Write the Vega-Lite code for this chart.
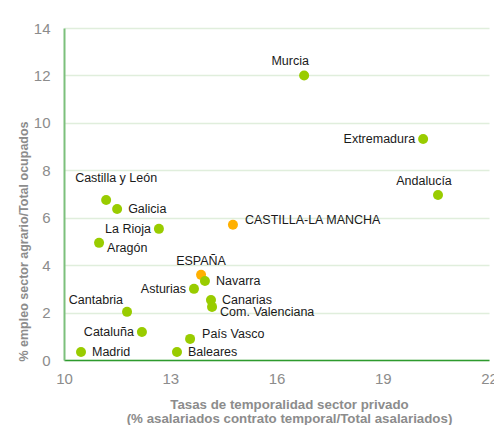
{
  "$schema": "https://vega.github.io/schema/vega-lite/v6.json",
  "width": 425,
  "height": 332,
  "autosize": "none",
  "padding": {"left": 64, "top": 28, "right": 5, "bottom": 65},
  "background": "white",
  "config": {"font": "Liberation Sans", "view": {"stroke": null}},
  "data": {"values": [
    {"region": "Murcia", "temporalidad": 16.78, "agrario": 12.0, "grupo": "Comunidad"},
    {"region": "Extremadura", "temporalidad": 20.14, "agrario": 9.32, "grupo": "Comunidad"},
    {"region": "Andalucía", "temporalidad": 20.56, "agrario": 6.96, "grupo": "Comunidad"},
    {"region": "Castilla y León", "temporalidad": 11.19, "agrario": 6.75, "grupo": "Comunidad"},
    {"region": "Galicia", "temporalidad": 11.5, "agrario": 6.37, "grupo": "Comunidad"},
    {"region": "CASTILLA-LA MANCHA", "temporalidad": 14.77, "agrario": 5.7, "grupo": "Destacado"},
    {"region": "La Rioja", "temporalidad": 12.68, "agrario": 5.53, "grupo": "Comunidad"},
    {"region": "Aragón", "temporalidad": 10.99, "agrario": 4.94, "grupo": "Comunidad"},
    {"region": "ESPAÑA", "temporalidad": 13.87, "agrario": 3.59, "grupo": "Destacado"},
    {"region": "Navarra", "temporalidad": 13.98, "agrario": 3.33, "grupo": "Comunidad"},
    {"region": "Asturias", "temporalidad": 13.67, "agrario": 3.0, "grupo": "Comunidad"},
    {"region": "Canarias", "temporalidad": 14.15, "agrario": 2.53, "grupo": "Comunidad"},
    {"region": "Com. Valenciana", "temporalidad": 14.18, "agrario": 2.24, "grupo": "Comunidad"},
    {"region": "Cantabria", "temporalidad": 11.78, "agrario": 2.03, "grupo": "Comunidad"},
    {"region": "Cataluña", "temporalidad": 12.2, "agrario": 1.18, "grupo": "Comunidad"},
    {"region": "País Vasco", "temporalidad": 13.56, "agrario": 0.89, "grupo": "Comunidad"},
    {"region": "Madrid", "temporalidad": 10.48, "agrario": 0.34, "grupo": "Comunidad"},
    {"region": "Baleares", "temporalidad": 13.19, "agrario": 0.34, "grupo": "Comunidad"}
  ]},
  "encoding": {
    "x": {
      "field": "temporalidad", "type": "quantitative",
      "scale": {"domain": [10, 22], "nice": false, "zero": false},
      "axis": {
        "values": [10, 13, 16, 19, 22],
        "title": ["Tasas de temporalidad sector privado", "(% asalariados contrato temporal/Total asalariados)"],
        "titleFont": "Liberation Sans", "titleFontSize": 13.3, "titleFontWeight": "bold", "titleColor": "#8c8c8c",
        "titleX": 225, "titleY": 37, "titleBaseline": "top", "titleAlign": "center", "titleLineHeight": 14,
        "grid": false, "ticks": false,
        "domainColor": "#2e9a2e", "domainWidth": 1.5,
        "labelFontSize": 15, "labelColor": "#8c8c8c", "labelPadding": 11, "labelFlush": false
      }
    },
    "y": {
      "field": "agrario", "type": "quantitative",
      "scale": {"domain": [0, 14], "nice": false},
      "axis": {
        "values": [0, 2, 4, 6, 8, 10, 12, 14],
        "title": "% empleo sector agrario/Total ocupados",
        "titleFont": "Liberation Sans", "titleFontSize": 12.5, "titleFontWeight": "bold", "titleColor": "#8c8c8c",
        "titleX": -34, "titleY": 213, "titleAngle": -90, "titleAlign": "center", "titleBaseline": "bottom",
        "grid": true, "gridColor": "#e0eedc", "gridWidth": 1.5,
        "ticks": false,
        "domainColor": "#7cc07c", "domainWidth": 2,
        "labelFontSize": 15, "labelColor": "#8c8c8c", "labelPadding": 14
      }
    }
  },
  "layer": [
    {
      "mark": {"type": "point", "filled": true, "shape": "circle", "size": 100, "opacity": 1},
      "encoding": {
        "color": {"field": "grupo", "type": "nominal", "scale": {"domain": ["Comunidad", "Destacado"], "range": ["#99cc00", "#ffb000"]}, "legend": null}
      }
    },
    {
      "transform": [{"filter": {"field": "region", "oneOf": ["Galicia", "Navarra", "Madrid", "Baleares", "Canarias"]}}],
      "mark": {"type": "text", "align": "left", "baseline": "middle", "dx": 11, "dy": 0, "fontSize": 12.5, "color": "#1a1a1a"},
      "encoding": {"text": {"field": "region"}}
    },
    {
      "transform": [{"filter": {"field": "region", "oneOf": ["Aragón", "Com. Valenciana"]}}],
      "mark": {"type": "text", "align": "left", "baseline": "middle", "dx": 8, "dy": 5, "fontSize": 12.5, "color": "#1a1a1a"},
      "encoding": {"text": {"field": "region"}}
    },
    {
      "transform": [{"filter": {"field": "region", "oneOf": ["CASTILLA-LA MANCHA", "País Vasco"]}}],
      "mark": {"type": "text", "align": "left", "baseline": "middle", "dx": 12, "dy": -5, "fontSize": 12.5, "color": "#1a1a1a"},
      "encoding": {"text": {"field": "region"}}
    },
    {
      "transform": [{"filter": {"field": "region", "oneOf": ["Extremadura", "La Rioja", "Asturias", "Cataluña"]}}],
      "mark": {"type": "text", "align": "right", "baseline": "middle", "dx": -8, "dy": 0, "fontSize": 12.5, "color": "#1a1a1a"},
      "encoding": {"text": {"field": "region"}}
    },
    {
      "transform": [{"filter": {"field": "region", "oneOf": ["ESPAÑA"]}}],
      "mark": {"type": "text", "align": "center", "baseline": "middle", "dx": 0, "dy": -14, "fontSize": 12.5, "color": "#1a1a1a"},
      "encoding": {"text": {"field": "region"}}
    },
    {
      "transform": [{"filter": {"field": "region", "oneOf": ["Murcia", "Andalucía"]}}],
      "mark": {"type": "text", "align": "center", "baseline": "middle", "dx": -14, "dy": -14, "fontSize": 12.5, "color": "#1a1a1a"},
      "encoding": {"text": {"field": "region"}}
    },
    {
      "transform": [{"filter": {"field": "region", "oneOf": ["Castilla y León"]}}],
      "mark": {"type": "text", "align": "center", "baseline": "middle", "dx": 10, "dy": -22, "fontSize": 12.5, "color": "#1a1a1a"},
      "encoding": {"text": {"field": "region"}}
    },
    {
      "transform": [{"filter": {"field": "region", "oneOf": ["Cantabria"]}}],
      "mark": {"type": "text", "align": "right", "baseline": "middle", "dx": -4, "dy": -12, "fontSize": 12.5, "color": "#1a1a1a"},
      "encoding": {"text": {"field": "region"}}
    }
  ]
}
